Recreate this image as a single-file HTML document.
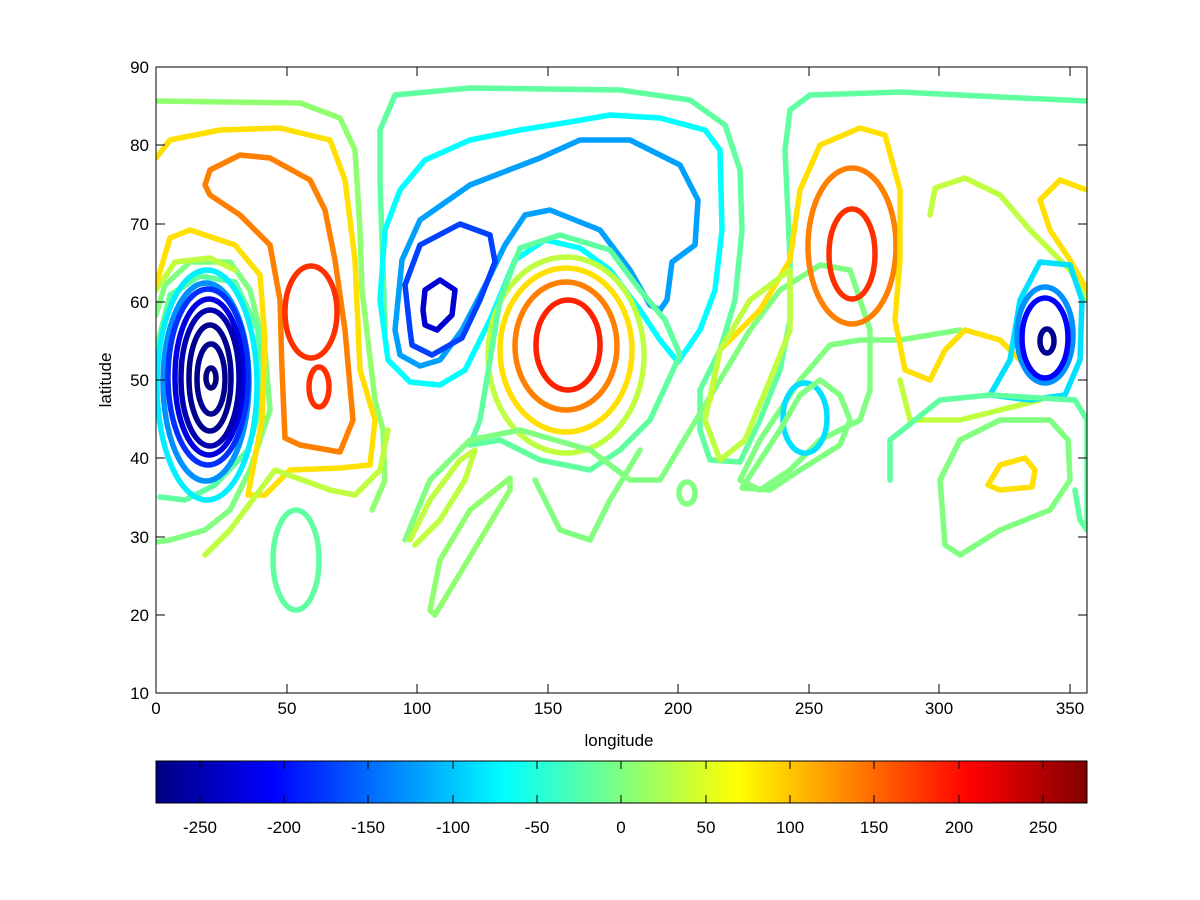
<!DOCTYPE html>
<html><head><meta charset="utf-8"><style>
html,body{margin:0;padding:0;background:#fff;}
svg{display:block;font-family:"Liberation Sans",sans-serif;}
</style></head><body>
<svg width="1200" height="900" viewBox="0 0 1200 900" xmlns="http://www.w3.org/2000/svg">
<rect width="1200" height="900" fill="#fff"/>
<defs><clipPath id="c"><rect x="156" y="67" width="931" height="626"/></clipPath></defs>
<g clip-path="url(#c)" fill="none" stroke-width="5.5" stroke-linejoin="round" stroke-linecap="round">
<!-- top green band -->
<polyline stroke="#90ff70" points="156,101 300,103 340,118 355,150 360,230 362,290 375,400 383,430 385,480 372,510"/>
<polyline stroke="#60ffa0" points="385,330 380,180 380,130 395,95 470,88 620,90 690,100 725,125 740,170 742,230 735,300 720,350 700,390 700,430 710,460 740,462 760,420 780,370 790,320 790,260 785,150 790,110 810,95 900,92 1000,97 1087,101"/>
<!-- left nested low -->
<polyline stroke="#80ff80" points="156,315 165,285 190,262 230,262 250,290 265,350 270,410 250,470 230,510 205,530 170,540 156,542"/>
<polyline stroke="#60ffa0" points="156,350 170,295 200,276 235,282 258,330 262,400 248,450 215,485 185,500 160,497"/>
<ellipse cx="207" cy="385" rx="50" ry="115" stroke="#00f0ff"/>
<ellipse cx="206" cy="382" rx="43" ry="99" stroke="#0090ff"/>
<ellipse cx="208" cy="377" rx="40" ry="88" stroke="#0030ff"/>
<ellipse cx="209" cy="377" rx="34" ry="78" stroke="#0000e0"/>
<ellipse cx="210" cy="378" rx="29" ry="68" stroke="#0000b0"/>
<ellipse cx="210" cy="378" rx="21" ry="53" stroke="#00008f"/>
<ellipse cx="211" cy="379" rx="14" ry="35" stroke="#00008f"/>
<ellipse cx="211" cy="378" rx="5" ry="10" stroke="#000080"/>
<polyline stroke="#c0ff40" points="156,290 175,262 210,258 235,270"/>
<polyline stroke="#ffe000" points="156,285 170,238 190,230 235,245 260,275 265,340 262,420 248,495 265,495 290,470 340,468 370,465 375,420 360,370 355,260 345,180 330,140 280,128 220,130 170,140 156,158"/>
<polyline stroke="#c0ff40" points="205,555 230,530 260,490 275,470 330,490 355,495 380,470 388,430"/>
<!-- mid orange/red -->
<polyline stroke="#ff8000" points="205,185 210,170 240,155 270,158 310,180 325,210 335,260 345,330 353,420 340,452 300,445 285,438 282,370 280,300 270,245 240,215 210,195 205,185"/>
<ellipse cx="311" cy="312" rx="26" ry="46" stroke="#ff3000"/>
<ellipse cx="319" cy="387" rx="10" ry="20" stroke="#ff3000"/>
<ellipse cx="296" cy="560" rx="23" ry="50" stroke="#60ffa0"/>
<!-- blue cell 105,60 -->
<polyline stroke="#00ffff" points="380,300 385,230 400,190 425,160 470,140 520,130 570,122 610,115 660,118 705,130 720,150 722,230 715,290 700,330 678,362 660,340 640,310 610,270 580,248 545,240 515,260 490,320 465,370 440,385 410,382 388,360 380,300"/>
<polyline stroke="#00a0ff" points="395,330 402,260 420,220 470,185 540,158 580,140 630,140 680,165 698,200 695,245 672,262 667,300 660,310 650,305 630,270 600,230 550,210 525,215 505,245 488,280 462,330 440,360 420,366 400,355 395,330"/>
<polyline stroke="#0040ff" points="410,330 405,285 420,245 460,224 490,235 495,262 480,300 462,338 432,355 412,345 410,330"/>
<polyline stroke="#0000d0" points="423,310 425,290 440,280 455,290 452,315 437,330 425,325 423,310"/>
<!-- center high -->
<ellipse cx="568" cy="345" rx="32" ry="45" stroke="#ff2000"/>
<ellipse cx="566" cy="346" rx="51" ry="64" stroke="#ff8000"/>
<ellipse cx="566" cy="350" rx="66" ry="82" stroke="#ffe000"/>
<ellipse cx="566" cy="355" rx="78" ry="98" stroke="#c0ff40"/>
<polyline stroke="#60ffa0" points="520,248 560,235 610,250 640,290 665,320 680,355 650,420 620,450 590,470 540,460 500,440 470,445 480,420 500,300 520,248"/>
<polyline stroke="#80ff80" points="405,540 430,480 470,440 520,430 590,450 630,480 660,480 690,430 720,380 750,330 780,290 820,265 850,270 870,330 870,390 860,420 820,440 790,470 760,490 740,480 760,440 800,380 830,345 860,340 900,340 960,330"/>
<polyline stroke="#80ff80" points="535,480 560,530 590,540 610,500 640,450"/>
<polyline stroke="#90ff70" points="430,610 440,560 470,510 510,478 510,490 480,540 450,590 435,615 430,610"/>
<polyline stroke="#c0ff40" points="410,540 430,500 460,460 475,450 465,480 440,520 415,545"/>
<ellipse cx="687" cy="493" rx="8" ry="11" stroke="#80ff80"/>
<!-- right top high -->
<ellipse cx="852" cy="254" rx="23" ry="45" stroke="#ff3000"/>
<ellipse cx="852" cy="246" rx="44" ry="78" stroke="#ff8000"/>
<polyline stroke="#ffe000" points="710,400 720,350 760,310 790,260 800,190 820,145 860,128 885,135 900,190 900,260 895,320 905,370 930,380 945,350 965,330 1000,340 1040,380"/>
<ellipse cx="805" cy="418" rx="22" ry="35" stroke="#00e0ff"/>
<polyline stroke="#80ff80" points="742,488 780,430 800,395 820,380 840,395 850,420 840,445 800,470 770,490 742,488"/>
<polyline stroke="#c0ff40" points="705,420 720,350 750,300 790,270 790,330 770,380 745,440 720,460 705,420"/>
<polyline stroke="#c0ff40" points="900,380 910,420 960,420 1000,410 1040,400"/>
<polyline stroke="#c0ff40" points="930,215 935,188 965,178 1000,195 1030,230 1070,270 1087,300"/>
<polyline stroke="#ffe000" points="1087,190 1060,180 1040,200 1050,230 1070,260 1087,290"/>
<!-- right low -->
<polyline stroke="#00e0ff" points="990,395 1010,360 1020,300 1040,262 1070,265 1082,300 1080,360 1065,395 1030,400 990,395"/>
<ellipse cx="1045" cy="335" rx="28" ry="48" stroke="#0090ff"/>
<ellipse cx="1045" cy="338" rx="23" ry="40" stroke="#0000ff"/>
<ellipse cx="1047" cy="341" rx="7" ry="12" stroke="#000090"/>
<polyline stroke="#60ffa0" points="890,480 890,440 940,400 990,395 1040,398 1075,400 1087,420 1087,530 1080,520 1075,490"/>
<polyline stroke="#80ff80" points="945,545 940,480 960,440 1000,420 1050,420 1068,440 1070,480 1050,510 1000,530 960,555 945,545"/>
<polyline stroke="#ffe000" points="988,485 1000,465 1025,458 1035,470 1032,487 1000,490 988,485"/>
</g>
<!-- axes box -->
<rect x="156" y="67" width="931" height="626" fill="none" stroke="#000" stroke-width="1"/>
<g stroke="#000" stroke-width="1">
<line x1="156" y1="693" x2="156" y2="684"/><line x1="287" y1="693" x2="287" y2="684"/><line x1="417" y1="693" x2="417" y2="684"/><line x1="548" y1="693" x2="548" y2="684"/><line x1="678" y1="693" x2="678" y2="684"/><line x1="809" y1="693" x2="809" y2="684"/><line x1="939" y1="693" x2="939" y2="684"/><line x1="1070" y1="693" x2="1070" y2="684"/>
<line x1="156" y1="67" x2="156" y2="76"/><line x1="287" y1="67" x2="287" y2="76"/><line x1="417" y1="67" x2="417" y2="76"/><line x1="548" y1="67" x2="548" y2="76"/><line x1="678" y1="67" x2="678" y2="76"/><line x1="809" y1="67" x2="809" y2="76"/><line x1="939" y1="67" x2="939" y2="76"/><line x1="1070" y1="67" x2="1070" y2="76"/>
<line x1="156" y1="145" x2="165" y2="145"/><line x1="156" y1="224" x2="165" y2="224"/><line x1="156" y1="302" x2="165" y2="302"/><line x1="156" y1="380" x2="165" y2="380"/><line x1="156" y1="458" x2="165" y2="458"/><line x1="156" y1="537" x2="165" y2="537"/><line x1="156" y1="615" x2="165" y2="615"/>
<line x1="1087" y1="145" x2="1078" y2="145"/><line x1="1087" y1="224" x2="1078" y2="224"/><line x1="1087" y1="302" x2="1078" y2="302"/><line x1="1087" y1="380" x2="1078" y2="380"/><line x1="1087" y1="458" x2="1078" y2="458"/><line x1="1087" y1="537" x2="1078" y2="537"/><line x1="1087" y1="615" x2="1078" y2="615"/>
</g>
<g font-size="17" fill="#000" text-anchor="middle">
<text x="156" y="714">0</text><text x="287" y="714">50</text><text x="417" y="714">100</text><text x="548" y="714">150</text><text x="678" y="714">200</text><text x="809" y="714">250</text><text x="939" y="714">300</text><text x="1070" y="714">350</text>
<text x="619" y="746">longitude</text>
<text transform="translate(111,380) rotate(-90)">latitude</text>
</g>
<g font-size="17" fill="#000" text-anchor="end">
<text x="149" y="73">90</text><text x="149" y="151">80</text><text x="149" y="230">70</text><text x="149" y="308">60</text><text x="149" y="386">50</text><text x="149" y="464">40</text><text x="149" y="543">30</text><text x="149" y="621">20</text><text x="149" y="699">10</text>
</g>
<!-- colorbar -->
<svg x="156" y="761" width="931" height="42" viewBox="0 0 64 1" preserveAspectRatio="none">
<defs><linearGradient id="jet" x1="0" x2="1" y1="0" y2="0">
<stop offset="0" stop-color="#000080"/><stop offset="0.125" stop-color="#0000ff"/><stop offset="0.375" stop-color="#00ffff"/><stop offset="0.625" stop-color="#ffff00"/><stop offset="0.875" stop-color="#ff0000"/><stop offset="1" stop-color="#800000"/>
</linearGradient></defs>
<rect width="64" height="1" fill="url(#jet)"/>
</svg>
<rect x="156" y="761" width="931" height="42" fill="none" stroke="#000" stroke-width="1"/>
<g stroke="#000" stroke-width="1">
<line x1="200" y1="803" x2="200" y2="795"/><line x1="284" y1="803" x2="284" y2="795"/><line x1="368" y1="803" x2="368" y2="795"/><line x1="453" y1="803" x2="453" y2="795"/><line x1="537" y1="803" x2="537" y2="795"/><line x1="621" y1="803" x2="621" y2="795"/><line x1="706" y1="803" x2="706" y2="795"/><line x1="790" y1="803" x2="790" y2="795"/><line x1="874" y1="803" x2="874" y2="795"/><line x1="959" y1="803" x2="959" y2="795"/><line x1="1043" y1="803" x2="1043" y2="795"/>
<line x1="200" y1="761" x2="200" y2="769"/><line x1="284" y1="761" x2="284" y2="769"/><line x1="368" y1="761" x2="368" y2="769"/><line x1="453" y1="761" x2="453" y2="769"/><line x1="537" y1="761" x2="537" y2="769"/><line x1="621" y1="761" x2="621" y2="769"/><line x1="706" y1="761" x2="706" y2="769"/><line x1="790" y1="761" x2="790" y2="769"/><line x1="874" y1="761" x2="874" y2="769"/><line x1="959" y1="761" x2="959" y2="769"/><line x1="1043" y1="761" x2="1043" y2="769"/>
</g>
<g font-size="17" fill="#000" text-anchor="middle">
<text x="200" y="833">-250</text><text x="284" y="833">-200</text><text x="368" y="833">-150</text><text x="453" y="833">-100</text><text x="537" y="833">-50</text><text x="621" y="833">0</text><text x="706" y="833">50</text><text x="790" y="833">100</text><text x="874" y="833">150</text><text x="959" y="833">200</text><text x="1043" y="833">250</text>
</g>
</svg>
</body></html>
